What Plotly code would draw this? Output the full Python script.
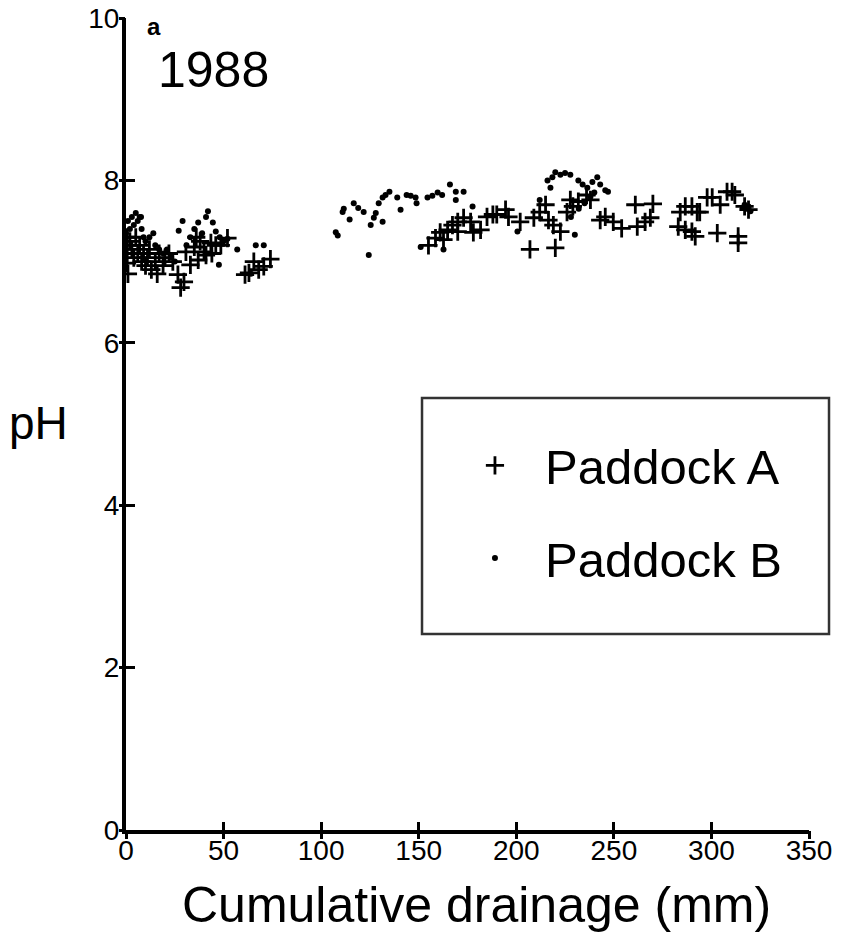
import plotly.graph_objects as go

# Paddock A (+)
a_x = [0.5, 0.5, 0.5, 0.5, 1, 2, 3, 4, 5, 6, 7, 8, 9, 10, 11, 12, 13, 15, 16, 17, 19, 20, 22, 24,
       26.6, 28, 29.7, 30.7, 33, 35, 37, 38, 40, 41, 43.5, 46, 48.6, 52, 44, 36,
       61, 63, 65.5, 68, 70.6, 74,
       158.6, 161, 162.7, 164.8, 167.3, 170, 170, 173, 176.6, 178, 181.7, 185, 188, 155,
       190, 194.5, 196, 202, 207, 209, 212, 215, 216.5, 219, 220, 222.6, 226, 227.7, 229,
       231.8, 236, 238, 243, 245.6, 249.7, 254, 261, 262, 266, 268.7, 270,
       283, 284, 286.6, 286.6, 290, 290, 291.7, 292.7, 294, 297.8, 300.4, 303, 304.5,
       308, 310.6, 312, 313.7, 313.7, 317, 319]
a_ph = [7.3, 7.2, 7.1, 6.98, 6.85, 7.25, 7.15, 7.05, 7.3, 7.1, 7.2, 7.0, 7.1, 6.95, 7.05, 7.15, 6.9, 7.0, 6.85, 7.1, 6.95, 7.05, 7.1, 7.0,
        6.84, 6.68, 6.75, 7.12, 6.96, 7.18, 7.02, 7.25, 7.12, 7.08, 7.23, 7.2, 7.2, 7.29, 7.1, 7.3,
        6.84, 6.86, 7.0, 6.9, 6.94, 7.03,
        7.29, 7.36, 7.27, 7.39, 7.45, 7.49, 7.37, 7.54, 7.49, 7.36, 7.39, 7.55, 7.58, 7.2,
        7.58, 7.64, 7.55, 7.49, 7.15, 7.54, 7.61, 7.7, 7.51, 7.45, 7.17, 7.37, 7.61, 7.76, 7.68,
        7.74, 7.82, 7.76, 7.51, 7.55, 7.49, 7.41, 7.7, 7.43, 7.49, 7.54, 7.71,
        7.43, 7.61, 7.68, 7.39, 7.68, 7.37, 7.31, 7.61, 7.61, 7.79, 7.79, 7.35, 7.7,
        7.86, 7.86, 7.82, 7.31, 7.23, 7.68, 7.64]

# Paddock B (dots)
b_x = [0, 1, 2, 3, 4, 5, 6, 7, 7.7, 8, 9, 10, 12, 14, 15, 17, 19, 21, 23, 25, 27, 29, 31, 33, 35, 37, 39,
       41, 42, 44.5, 46, 48, 50, 52, 57, 47.6, 66.5, 70.6, 64,
       107.5, 108.5, 111, 111.6, 114.6, 116.7, 119, 121.8, 124.4, 125.4, 127, 128, 129.5, 131.5, 131.5,
       133, 135, 139, 140.7, 143.8, 145.9, 148.4, 148.9, 151, 154.5, 157, 159.7, 162, 162.7, 166,
       169, 169, 173, 177.6,
       200.6, 212, 216, 217.5, 218.5, 220, 222.6, 225, 227.7, 230, 231.8, 234, 236.4, 239, 241.5,
       243, 245.6, 247, 228, 232, 235, 238, 240,
       316, 317, 318, 319, 320]
b_ph = [7.35, 7.5, 7.4, 7.55, 7.45, 7.6, 7.5, 7.55, 7.55, 7.4, 7.3, 7.25, 7.3, 7.35, 7.2, 7.15, 7.1, 7.15, 7.05, 7.0, 7.38, 7.5, 7.2, 7.3, 7.4, 7.48, 7.35,
        7.55, 7.62, 7.48, 7.37, 7.3, 7.25, 7.28, 7.15, 6.96, 7.2, 7.2, 6.85,
        7.36, 7.32, 7.61, 7.65, 7.52, 7.72, 7.66, 7.61, 7.08, 7.45, 7.54, 7.6, 7.72, 7.79, 7.49,
        7.82, 7.86, 7.79, 7.64, 7.82, 7.81, 7.79, 7.72, 7.18, 7.79, 7.81, 7.85, 7.82, 7.15, 7.95,
        7.86, 7.76, 7.86, 7.68,
        7.37, 7.76, 8.0, 7.91, 8.04, 8.1, 8.07, 8.09, 8.07, 7.33, 8.0, 7.95, 7.91, 7.98, 8.04,
        7.95, 7.88, 7.86, 7.55, 7.65, 7.72, 7.8, 7.85,
        7.66, 7.7, 7.65, 7.68, 7.62]

x_ticks = [0, 50, 100, 150, 200, 250, 300, 350]
y_ticks = [0, 2, 4, 6, 8, 10]

FONT = "Liberation Sans, Arial, sans-serif"

fig = go.Figure()
fig.add_trace(go.Scatter(
    x=a_x, y=a_ph, mode="markers", name="Paddock A", legendgroup="a",
    marker=dict(symbol="cross-thin", size=13, color="black",
                line=dict(width=2.8, color="black"))))
fig.add_trace(go.Scatter(
    x=b_x, y=b_ph, mode="markers", name="Paddock B", legendgroup="b",
    marker=dict(symbol="circle", size=6, color="black")))
# invisible trace to anchor the overlaid tick axes
fig.add_trace(go.Scatter(x=[0], y=[0], xaxis="x2", yaxis="y2", mode="markers",
                         marker=dict(opacity=0), showlegend=False, hoverinfo="skip"))

fig.update_layout(
    width=834, height=930,
    margin=dict(l=118, r=33, t=10, b=108),
    paper_bgcolor="white", plot_bgcolor="white",
    font=dict(family=FONT, color="black"),
    showlegend=True,
    legend=dict(x=0.467, y=0.4963, xanchor="left", yanchor="top",
                font=dict(size=49, family=FONT), bgcolor="rgba(0,0,0,0)",
                borderwidth=0, traceorder="grouped", tracegroupgap=26,
                itemwidth=90),
    xaxis=dict(range=[0, 350], tickvals=x_ticks, ticktext=[str(v) for v in x_ticks],
               showgrid=False, zeroline=False, showline=True, linewidth=4, linecolor="black",
               ticks="inside", ticklen=8, tickwidth=3, tickcolor="black",
               tickfont=dict(size=28, family=FONT), automargin=False,
               ticklabelstandoff=-8, ticklabeloverflow="allow"),
    yaxis=dict(range=[0, 10], tickvals=y_ticks, ticktext=[str(v) for v in y_ticks],
               showgrid=False, zeroline=False, showline=True, linewidth=4, linecolor="black",
               ticks="inside", ticklen=9, tickwidth=3, tickcolor="black",
               tickfont=dict(size=28, family=FONT), automargin=False,
               ticklabelstandoff=-3, ticklabeloverflow="allow"),
    xaxis2=dict(range=[0, 350], overlaying="x", side="bottom", tickvals=x_ticks,
                showticklabels=False, showgrid=False, zeroline=False, showline=False,
                ticks="outside", ticklen=8, tickwidth=3, tickcolor="black", automargin=False),
    yaxis2=dict(range=[0, 10], overlaying="y", side="left", tickvals=y_ticks,
                showticklabels=False, showgrid=False, zeroline=False, showline=False,
                ticks="outside", ticklen=6, tickwidth=3, tickcolor="black", automargin=False),
    shapes=[dict(type="rect", xref="paper", yref="paper",
                 x0=0.4334, x1=1.0293, y0=0.2414, y1=0.532,
                 line=dict(color="#333333", width=2.5))],
    annotations=[
        dict(text="1988", x=0.1288, y=0.936, xref="paper", yref="paper", showarrow=False,
             xanchor="center", yanchor="middle", font=dict(size=50, family=FONT)),
        dict(text="a", x=0.041, y=0.9901, xref="paper", yref="paper", showarrow=False,
             xanchor="center", yanchor="middle",
             font=dict(size=24, family=FONT, weight="bold")),
        dict(text="pH", x=-0.1288, y=0.501, xref="paper", yref="paper", showarrow=False,
             xanchor="center", yanchor="middle", font=dict(size=46, family=FONT)),
        dict(text="Cumulative drainage (mm)", x=0.5125, y=-0.0924, xref="paper", yref="paper",
             showarrow=False, xanchor="center", yanchor="middle",
             font=dict(size=50, family=FONT)),
    ],
)

fig.write_html("out.html")
